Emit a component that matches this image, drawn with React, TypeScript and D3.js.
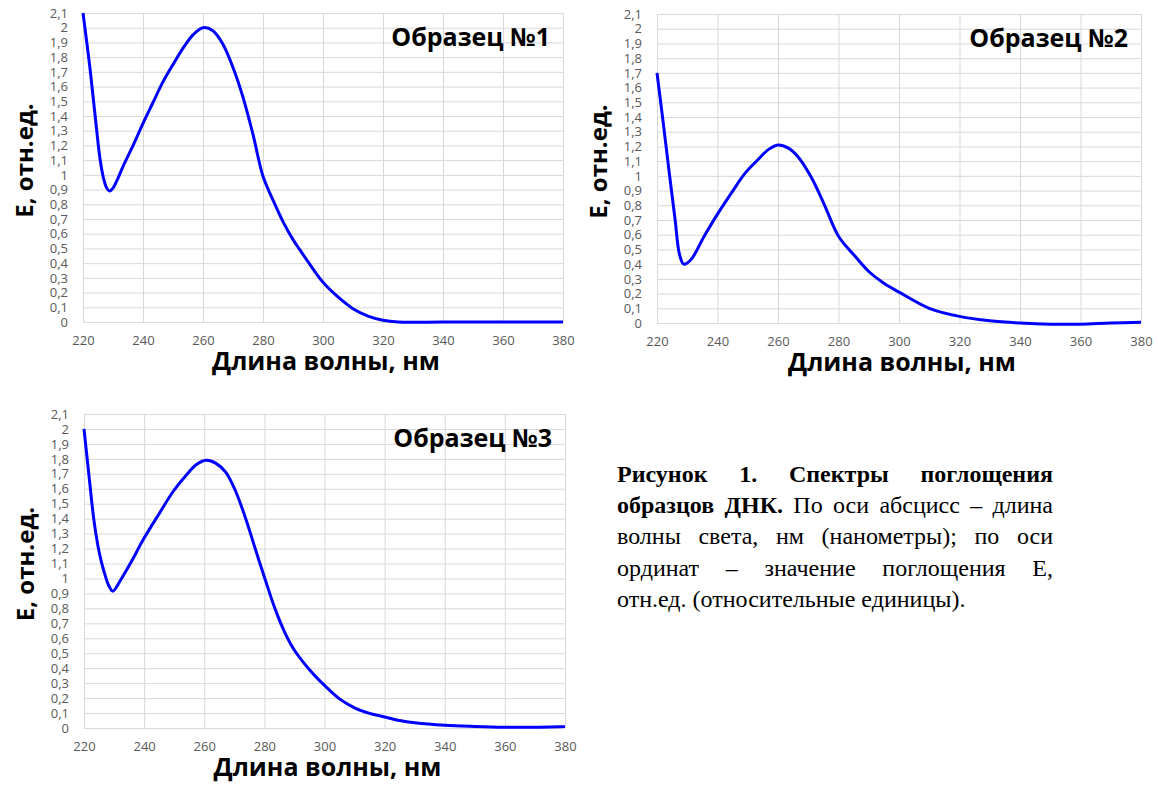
import React, { useEffect, useRef } from 'react';
import * as d3 from 'd3';

// wavelength ticks (nm) and absorbance ticks shared by all three charts
const xTicks = [220, 240, 260, 280, 300, 320, 340, 360, 380];
const yTicks = [0, 0.1, 0.2, 0.3, 0.4, 0.5, 0.6, 0.7, 0.8, 0.9, 1, 1.1, 1.2, 1.3, 1.4, 1.5, 1.6, 1.7, 1.8, 1.9, 2, 2.1];

// Образец №1
const sample1X = [220, 222.3, 224, 225.6, 226.8, 227.9, 228.8, 230, 231.5, 233.4, 236.7, 240, 243.3, 246.6, 250, 253.3, 256.6, 260, 263.3, 266.6, 270, 273.3, 276.6, 280, 283.3, 286.7, 290, 292.3, 295, 300, 305, 310, 315, 320, 325, 340, 360, 380];
const sample1E = [2.1, 1.73, 1.41, 1.12, 0.98, 0.91, 0.89, 0.91, 0.97, 1.06, 1.2, 1.35, 1.49, 1.63, 1.75, 1.86, 1.95, 2.0, 1.98, 1.89, 1.73, 1.53, 1.28, 0.99, 0.83, 0.68, 0.56, 0.49, 0.41, 0.27, 0.17, 0.09, 0.04, 0.012, 0, 0, 0, 0];

// Образец №2
const sample2X = [220, 222, 224, 226, 227.4, 228.8, 231.2, 235.6, 240, 244.8, 249.2, 253.6, 256.9, 260, 263.3, 266.6, 271, 275.4, 280, 285.2, 290, 295, 300, 310, 320, 330, 340, 350, 360, 370, 380];
const sample2E = [1.7, 1.37, 1.03, 0.7, 0.47, 0.4, 0.43, 0.59, 0.74, 0.89, 1.02, 1.115, 1.18, 1.21, 1.19, 1.13, 0.99, 0.8, 0.59, 0.46, 0.35, 0.27, 0.21, 0.1, 0.045, 0.015, 0, -0.008, -0.008, 0, 0.005];

// Образец №3
const sample3X = [220, 221.7, 223.3, 225, 226.6, 228.3, 229.6, 232.2, 235.4, 240, 245.2, 249.6, 254, 257.3, 260.6, 263.9, 267.2, 270.5, 273.8, 277.1, 280, 283.5, 287, 290, 295, 300, 305, 310, 315, 320, 325, 330, 340, 350, 360, 370, 380];
const sample3E = [2.0, 1.68, 1.39, 1.18, 1.05, 0.95, 0.915, 0.99, 1.1, 1.27, 1.44, 1.58, 1.69, 1.76, 1.79, 1.77, 1.71, 1.58, 1.4, 1.19, 1.01, 0.8, 0.63, 0.52, 0.39, 0.285, 0.195, 0.135, 0.098, 0.074, 0.05, 0.035, 0.018, 0.01, 0.005, 0.005, 0.01];

const titles = ['Образец №1', 'Образец №2', 'Образец №3'];
const xTitle = 'Длина волны, нм';
const yTitle = 'Е, отн.ед.';

const captionLines = [
  [['Рисунок', true], ['1.', true], ['Спектры', true], ['поглощения', true]],
  [['образцов', true], ['ДНК.', true], ['По', false], ['оси', false], ['абсцисс', false], ['–', false], ['длина', false]],
  [['волны', false], ['света,', false], ['нм', false], ['(нанометры);', false], ['по', false], ['оси', false]],
  [['ординат', false], ['–', false], ['значение', false], ['поглощения', false], ['Е,', false]],
  [['отн.ед.', false], ['(относительные', false], ['единицы).', false]],
];

const fmt = (d) => String(+(+d).toFixed(1)).replace('.', ',');

export default function App() {
  const ref = useRef(null);

  useEffect(() => {
    const svg = d3.select(ref.current);
    svg.selectAll('*').remove();

    const panels = [
      { left: 83, right: 563, top: 13, bottom: 322, xs: sample1X, ys: sample1E, title: titles[0] },
      { left: 657, right: 1141, top: 14, bottom: 323, xs: sample2X, ys: sample2E, title: titles[1] },
      { left: 84, right: 565, top: 414, bottom: 728, xs: sample3X, ys: sample3E, title: titles[2] },
    ];

    panels.forEach((p) => {
      const w = p.right - p.left;
      const h = p.bottom - p.top;
      const x = d3.scaleLinear().domain([220, 380]).range([0, w]);
      const y = d3.scaleLinear().domain([0, 2.1]).range([h, 0]);

      const g = svg.append('g').attr('transform', `translate(${p.left},${p.top})`);

      const yAxis = d3.axisLeft(y).tickValues(yTicks).tickSize(-w).tickPadding(15).tickFormat(fmt);
      const xAxis = d3.axisBottom(x).tickValues(xTicks).tickSize(-h).tickPadding(14).tickFormat((d) => String(d));

      const gy = g.append('g').call(yAxis);
      const gx = g.append('g').attr('transform', `translate(0,${h})`).call(xAxis);

      [gx, gy].forEach((a) => {
        a.select('.domain').remove();
        a.attr('font-family', '"Open Sans", sans-serif').attr('font-size', 13);
        a.selectAll('line').attr('stroke', '#d9d9d9').attr('stroke-width', 1);
        a.selectAll('text').attr('fill', '#595959');
      });

      const line = d3.line()
        .x((d, i) => x(p.xs[i]))
        .y((d) => y(d))
        .curve(d3.curveCatmullRom.alpha(0.5));

      g.append('path')
        .datum(p.ys)
        .attr('d', line)
        .attr('fill', 'none')
        .attr('stroke', '#0000ff')
        .attr('stroke-width', 3)
        .attr('stroke-linejoin', 'round');

      g.append('text')
        .attr('x', w - 13)
        .attr('y', 33)
        .attr('text-anchor', 'end')
        .attr('font-family', '"Open Sans", sans-serif')
        .attr('font-weight', 'bold')
        .attr('font-size', 25)
        .text(p.title);

      g.append('text')
        .attr('x', w / 2 + 3)
        .attr('y', h + 48)
        .attr('text-anchor', 'middle')
        .attr('font-family', '"Open Sans", sans-serif')
        .attr('font-weight', 'bold')
        .attr('font-size', 25)
        .text(xTitle);

      g.append('text')
        .attr('transform', `translate(-50,${h / 2 - 7}) rotate(-90)`)
        .attr('text-anchor', 'middle')
        .attr('font-family', '"Open Sans", sans-serif')
        .attr('font-weight', 'bold')
        .attr('font-size', 24)
        .text(yTitle);
    });

    // caption, justified
    const capX = 617;
    const capW = 436;
    const cap = svg.append('g')
      .attr('font-family', '"Liberation Serif", "Times New Roman", serif')
      .attr('font-size', 24)
      .attr('fill', '#000');

    captionLines.forEach((words, i) => {
      const yy = 482 + i * 31.2;
      const nodes = words.map(([t, b]) => cap.append('text')
        .attr('y', yy)
        .attr('font-weight', b ? 'bold' : 'normal')
        .text(t));
      const widths = nodes.map((n) => n.node().getComputedTextLength());
      const last = i === captionLines.length - 1;
      const gap = last ? 6 : (capW - d3.sum(widths)) / (words.length - 1);
      let xx = capX;
      nodes.forEach((n, j) => {
        n.attr('x', xx);
        xx += widths[j] + gap;
      });
    });
  }, []);

  return (
    <svg ref={ref} width={1158} height={785} style={{ position: 'absolute', left: 0, top: 0, background: '#fff' }} />
  );
}
